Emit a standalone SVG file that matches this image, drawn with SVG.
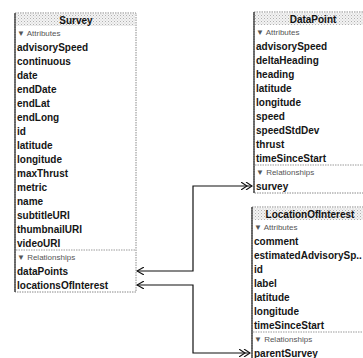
<svg xmlns="http://www.w3.org/2000/svg" width="363" height="358" viewBox="0 0 363 358">
  <defs>
    <style>
      .box { fill: #ffffff; stroke: #8a8a8a; stroke-width: 1; stroke-dasharray: 1.5 1; }
      .edge { stroke: #222222; stroke-width: 1.2; }
      .head { fill: url(#stipple); }
      .title { font-family: "Liberation Sans", Arial, sans-serif; font-size: 10px; font-weight: bold; fill: #111111; text-anchor: middle; }
      .row { font-family: "Liberation Sans", Arial, sans-serif; font-size: 10px; font-weight: bold; fill: #151515; }
      .sect { font-family: "Liberation Sans", "DejaVu Sans", sans-serif; font-size: 8px; fill: #555555; }
      .sep { stroke: #9a9a9a; stroke-width: 1; stroke-dasharray: 1.5 1; }
      .link { fill: none; stroke: #111111; stroke-width: 1.2; }
    </style>
    <pattern id="stipple" width="3" height="3" patternUnits="userSpaceOnUse">
      <rect width="3" height="3" fill="#f3f3f3"/>
      <rect x="0" y="0" width="1" height="1" fill="#b0b0b0"/>
      <rect x="1.5" y="1.5" width="1" height="1" fill="#c8c8c8"/>
    </pattern>
    <marker id="one" viewBox="0 0 8 8" refX="7" refY="4" markerWidth="8" markerHeight="8" markerUnits="userSpaceOnUse" orient="auto-start-reverse">
      <path d="M0,0 L7,4 L0,8" fill="none" stroke="#111111" stroke-width="1.1"/>
    </marker>
    <marker id="many" viewBox="0 0 12 8" refX="11" refY="4" markerWidth="12" markerHeight="8" markerUnits="userSpaceOnUse" orient="auto">
      <path d="M0,0 L6,4 L0,8 M5,0 L11,4 L5,8" fill="none" stroke="#111111" stroke-width="1.1"/>
    </marker>
  </defs>

  <rect width="363" height="358" fill="#ffffff"/>

  <!-- Survey entity -->
  <g id="survey">
    <rect class="box" x="15" y="13" width="121" height="279"/>
    <rect class="head" x="16" y="14" width="119" height="12"/>
    <line class="edge" x1="15" y1="13" x2="15" y2="292"/>
    <text class="title" x="76" y="23.5">Survey</text>
    <text class="sect" x="17" y="36">▼ Attributes</text>
    <text class="row" x="17" y="50.5">advisorySpeed</text>
    <text class="row" x="17" y="64.5">continuous</text>
    <text class="row" x="17" y="78.5">date</text>
    <text class="row" x="17" y="92.5">endDate</text>
    <text class="row" x="17" y="106.5">endLat</text>
    <text class="row" x="17" y="120.5">endLong</text>
    <text class="row" x="17" y="134.5">id</text>
    <text class="row" x="17" y="148.5">latitude</text>
    <text class="row" x="17" y="162.5">longitude</text>
    <text class="row" x="17" y="176.5">maxThrust</text>
    <text class="row" x="17" y="190.5">metric</text>
    <text class="row" x="17" y="204.5">name</text>
    <text class="row" x="17" y="218.5">subtitleURI</text>
    <text class="row" x="17" y="232.5">thumbnailURI</text>
    <text class="row" x="17" y="246.5">videoURI</text>
    <line class="sep" x1="16" y1="250" x2="136" y2="250"/>
    <text class="sect" x="17" y="260">▼ Relationships</text>
    <text class="row" x="17" y="274.5">dataPoints</text>
    <text class="row" x="17" y="288.5">locationsOfInterest</text>
  </g>

  <!-- DataPoint entity -->
  <g id="datapoint">
    <rect class="box" x="254" y="12" width="118" height="181"/>
    <rect class="head" x="255" y="13" width="117" height="12"/>
    <line class="edge" x1="254" y1="12" x2="254" y2="193"/>
    <text class="title" x="313" y="22.5">DataPoint</text>
    <text class="sect" x="256" y="35">▼ Attributes</text>
    <text class="row" x="256" y="49.5">advisorySpeed</text>
    <text class="row" x="256" y="63.5">deltaHeading</text>
    <text class="row" x="256" y="77.5">heading</text>
    <text class="row" x="256" y="91.5">latitude</text>
    <text class="row" x="256" y="105.5">longitude</text>
    <text class="row" x="256" y="119.5">speed</text>
    <text class="row" x="256" y="133.5">speedStdDev</text>
    <text class="row" x="256" y="147.5">thrust</text>
    <text class="row" x="256" y="161.5">timeSinceStart</text>
    <line class="sep" x1="255" y1="165" x2="372" y2="165"/>
    <text class="sect" x="256" y="175">▼ Relationships</text>
    <text class="row" x="256" y="189.5">survey</text>
  </g>

  <!-- LocationOfInterest entity -->
  <g id="locationofinterest">
    <rect class="box" x="252" y="207" width="116" height="160"/>
    <rect class="head" x="253" y="208" width="115" height="12"/>
    <line class="edge" x1="252" y1="207" x2="252" y2="358"/>
    <text class="title" x="310" y="217.5">LocationOfInterest</text>
    <text class="sect" x="254" y="230">▼ Attributes</text>
    <text class="row" x="254" y="244.5">comment</text>
    <text class="row" x="254" y="258.5">estimatedAdvisorySp..</text>
    <text class="row" x="254" y="272.5">id</text>
    <text class="row" x="254" y="286.5">label</text>
    <text class="row" x="254" y="300.5">latitude</text>
    <text class="row" x="254" y="314.5">longitude</text>
    <text class="row" x="254" y="328.5">timeSinceStart</text>
    <line class="sep" x1="253" y1="332" x2="368" y2="332"/>
    <text class="sect" x="254" y="342">▼ Relationships</text>
    <text class="row" x="254" y="356.5">parentSurvey</text>
  </g>

  <!-- Relationship connectors -->
  <g id="connectors">
    <path class="link" d="M137,271 H193 V186 H252" marker-start="url(#one)" marker-end="url(#many)"/>
    <path class="link" d="M137,285 H193 V353 H250" marker-start="url(#one)" marker-end="url(#many)"/>
  </g>
</svg>
